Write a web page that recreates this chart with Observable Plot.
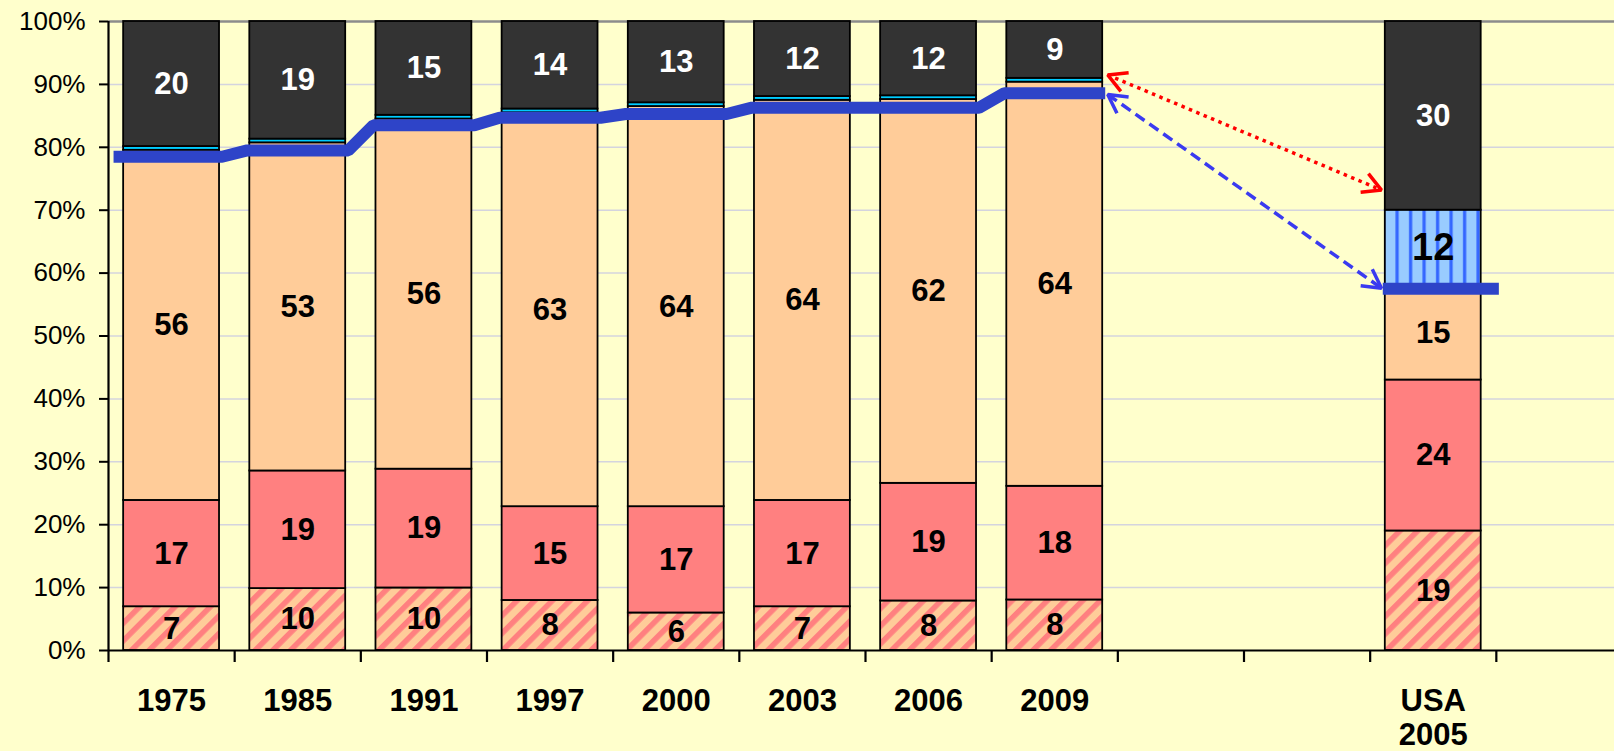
<!DOCTYPE html>
<html><head><meta charset="utf-8">
<script src="https://cdn.jsdelivr.net/npm/d3@7"></script>
<script src="https://cdn.jsdelivr.net/npm/@observablehq/plot@0.6"></script>
<style>
html,body{margin:0;padding:0;background:#FFFFCC;}
#chart svg{display:block;}
</style></head><body><div id="chart"></div>
<script>
// ---- data ----
const categories = ["1975","1985","1991","1997","2000","2003","2006","2009","","","USA\n2005",""];
const barIndex   = [0,1,2,3,4,5,6,7,10];
const hatchVals  = [7,10,10,8,6,7,8,8,19];
const redVals    = [17,19,19,15,17,17,19,18,24];
const peachVals  = [56,53,56,63,64,64,62,64,15];
const fourthVals = [0.6,0.6,0.6,0.6,0.6,0.6,0.6,0.6,12];
const grayVals   = [20,19,15,14,13,12,12,9,30];
const blueLineVals = [78.5,79.5,83.5,84.7,85.3,86.3,86.3,88.6];
const usaLineVal = 57.5;
const yTicks = [0,10,20,30,40,50,60,70,80,90,100];
const arrowRed  = {x1: 7.42, y1: 91.5, x2: 9.59, y2: 73.2};
const arrowBlue = {x1: 7.42, y1: 88.4, x2: 9.59, y2: 57.6};

// ---- build tables ----
const segs = [];
barIndex.forEach((xi, k) => {
  const usa = categories[xi].startsWith("USA");
  const parts = [
    {v: hatchVals[k], fill: "url(#hatch)", label: hatchVals[k], tc: "#000"},
    {v: redVals[k], fill: "#FF8080", label: redVals[k], tc: "#000"},
    {v: peachVals[k], fill: "#FFCC99", label: peachVals[k], tc: "#000"},
    {v: fourthVals[k], fill: usa ? "url(#vstripe)" : "#00CCFF", label: usa ? fourthVals[k] : null, tc: "#000", big: usa},
    {v: grayVals[k], fill: "#333333", label: grayVals[k], tc: "#FFFFFF"}
  ];
  const sum = d3.sum(parts, p => p.v);
  let cum = 0;
  parts.forEach(p => {
    const pct = p.v * 100 / sum;
    segs.push({x: xi, y1: cum, y2: cum + pct, fill: p.fill, label: p.label, tc: p.tc, big: !!p.big});
    cum += pct;
  });
});
const half = 0.38;
const lineHist = [];
blueLineVals.forEach((v, i) => {
  lineHist.push({x: i - (i === 0 ? 0.46 : 0.4), y: v});
  lineHist.push({x: i + 0.4, y: v});
});
const usaX = categories.findIndex(c => c.startsWith("USA"));
const lineUsa = [{x: usaX - 0.4, y: usaLineVal}, {x: usaX + 0.52, y: usaLineVal}];
const xLabels = barIndex.map(i => ({x: i, t: categories[i]}));
const boundaries = categories.map((c, i) => i - 0.5);

function arrowHeads(index, scales, values, dimensions, context, next) {
  const g = next(index, scales, values, dimensions, context);
  const {x1: X1, y1: Y1, x2: X2, y2: Y2} = values;
  for (const i of index) {
    const ends = [[X1[i], Y1[i], X2[i], Y2[i]], [X2[i], Y2[i], X1[i], Y1[i]]];
    for (const [tx, ty, fx, fy] of ends) {
      const a = Math.atan2(fy - ty, fx - tx);
      const L = 21, w = 0.5;
      const d = `M${tx + L*Math.cos(a - w)},${ty + L*Math.sin(a - w)}L${tx},${ty}L${tx + L*Math.cos(a + w)},${ty + L*Math.sin(a + w)}`;
      const p = document.createElementNS("http://www.w3.org/2000/svg", "path");
      p.setAttribute("d", d);
      p.setAttribute("fill", "none");
      p.setAttribute("stroke-dasharray", "none");
      p.setAttribute("stroke-linecap", "butt");
      p.setAttribute("stroke-linejoin", "miter");
      g.appendChild(p);
    }
  }
  return g;
}

const font = "'Liberation Sans', Arial, sans-serif";
const chart = Plot.plot({
  width: 1614, height: 751,
  marginLeft: 108, marginRight: 0, marginTop: 21, marginBottom: 101,
  x: {domain: [-0.5, 11.5], range: [108, 1622], axis: null},
  y: {domain: [0, 100], axis: null},
  color: {type: "identity"},
  style: {background: "#FFFFCC", fontFamily: font, color: "#000"},
  marks: [
    Plot.ruleY(yTicks.filter(t => t > 0 && t < 100), {stroke: "#D4D4DE", strokeWidth: 1.5}),
    Plot.ruleY([100], {stroke: "#8C8C8C", strokeWidth: 2.5}),
    Plot.rect(segs, {x1: d => d.x - half, x2: d => d.x + half, y1: "y1", y2: "y2", fill: "fill", stroke: "#000", strokeWidth: 1.8}),
    Plot.line(lineHist, {x: "x", y: "y", stroke: "#2E44C8", strokeWidth: 12, strokeLinecap: "butt", strokeLinejoin: "miter", curve: "linear"}),
    Plot.line(lineUsa, {x: "x", y: "y", stroke: "#2E44C8", strokeWidth: 12, strokeLinecap: "butt"}),
    Plot.text(segs.filter(d => d.label != null && !d.big), {x: "x", y: d => (d.y1 + d.y2) / 2, text: d => String(d.label), fill: "tc", fontSize: 31, fontWeight: "bold"}),
    Plot.text(segs.filter(d => d.big), {x: "x", y: d => (d.y1 + d.y2) / 2, text: d => String(d.label), fill: "tc", fontSize: 38, fontWeight: "bold"}),
    Plot.link([arrowRed], {x1: "x1", y1: "y1", x2: "x2", y2: "y2", stroke: "#FF0000", strokeWidth: 3.5, strokeDasharray: "3.5,4.5", render: arrowHeads}),
    Plot.link([arrowBlue], {x1: "x1", y1: "y1", x2: "x2", y2: "y2", stroke: "#3A3AF0", strokeWidth: 3.5, strokeDasharray: "11,6", render: arrowHeads}),
    Plot.ruleY([0], {stroke: "#000", strokeWidth: 2.2}),
    Plot.ruleX(boundaries, {y1: 0, y2: 0, insetBottom: -12, stroke: "#000", strokeWidth: 2.2}),
    Plot.ruleX([-0.5], {y1: 100, y2: 0, stroke: "#000", strokeWidth: 2.2}),
    Plot.axisY({ticks: yTicks, tickSize: 9, tickPadding: 14, fontSize: 26, tickFormat: d => d + "%", label: null, strokeWidth: 2, stroke: "#000", fill: "#000"}),
    Plot.text(xLabels, {x: "x", y: 0, text: "t", dy: 37, lineAnchor: "top", lineHeight: 1.08, fontSize: 31, fontWeight: "bold", fill: "#000"})
  ]
});

const defs = document.createElementNS("http://www.w3.org/2000/svg", "defs");
defs.innerHTML = `
<pattern id="hatch" width="12.5" height="12.5" patternUnits="userSpaceOnUse" patternTransform="rotate(45)">
  <rect width="12.5" height="12.5" fill="#FFCC99"/>
  <rect width="5.5" height="12.5" fill="#FF8080"/>
</pattern>
<pattern id="vstripe" width="13.5" height="20" patternUnits="userSpaceOnUse">
  <rect width="13.5" height="20" fill="#99CCFF"/>
  <rect x="5" width="3.2" height="20" fill="#3366FF"/>
</pattern>`;
chart.insertBefore(defs, chart.firstChild);
document.getElementById("chart").appendChild(chart);
</script>
</body></html>
